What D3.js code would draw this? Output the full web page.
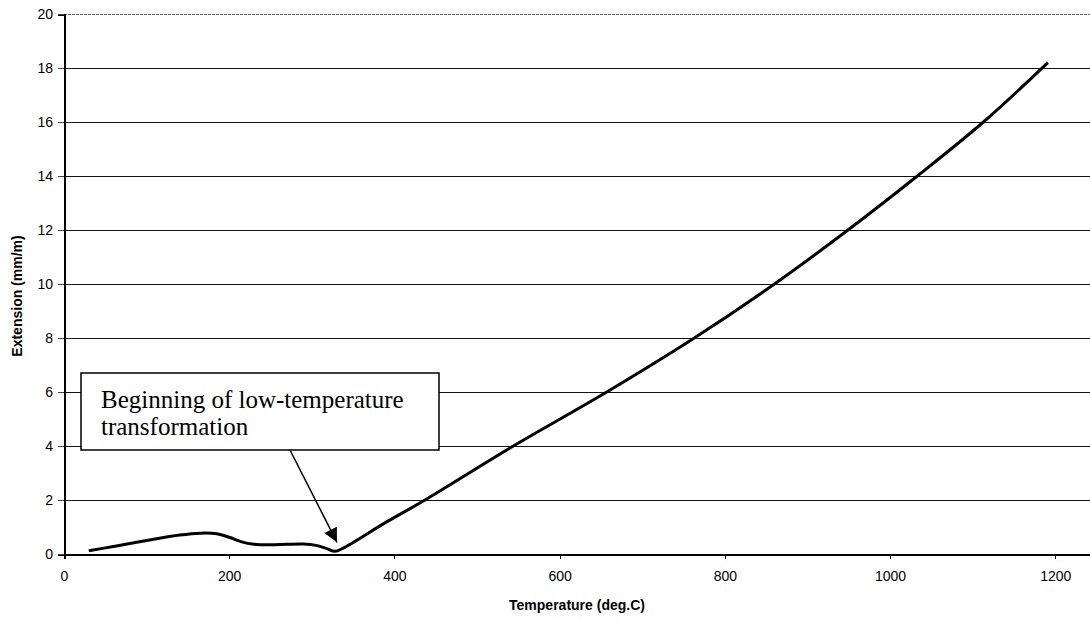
<!DOCTYPE html>
<html>
<head>
<meta charset="utf-8">
<script src="https://d3js.org/d3.v7.min.js"></script>
<style>
  html, body { margin: 0; padding: 0; background: #fff; }
  svg { display: block; }
</style>
</head>
<body>
<div id="chart"></div>
<script>
// Dilatometer curve
const temperature = [30, 60, 100, 140, 165, 185, 200, 215, 230, 250, 270, 290, 305, 318, 328, 338, 390, 437, 544, 657, 763, 860, 949, 1033, 1113, 1191];
const extension   = [0.12, 0.28, 0.5, 0.7, 0.77, 0.75, 0.62, 0.45, 0.36, 0.34, 0.36, 0.37, 0.32, 0.2, 0.1, 0.22, 1.18, 2, 4, 6, 8, 10, 12, 14, 16, 18.2];

const xTicks = [0, 200, 400, 600, 800, 1000, 1200];
const yTicks = [0, 2, 4, 6, 8, 10, 12, 14, 16, 18, 20];
const xMax = 1242;   // plot runs off the right edge of the picture

const note = ['Beginning of low-temperature', 'transformation'];
const noteAt = { t: 328, v: 0.1 };

const width = 1090, height = 622;
const margin = { top: 14, right: 0, bottom: 68, left: 64 };
const sans = 'Arial, "Liberation Sans", sans-serif';

const svg = d3.select('#chart').append('svg')
    .attr('width', width)
    .attr('height', height);

const x = d3.scaleLinear().domain([0, xMax]).range([margin.left, width - margin.right]);
const y = d3.scaleLinear().domain([0, 20]).range([height - margin.bottom, margin.top]);

// horizontal gridlines
svg.append('g')
    .attr('shape-rendering', 'crispEdges')
    .selectAll('line')
    .data(yTicks.filter(d => d > 0))
    .enter()
    .append('line')
    .attr('x1', x(0))
    .attr('x2', x(xMax))
    .attr('y1', d => y(d))
    .attr('y2', d => y(d))
    .attr('stroke', d => d === 20 ? '#666' : '#111')
    .attr('stroke-dasharray', d => d === 20 ? '3,1' : null)
    .attr('stroke-width', 1);

// axes
const yAxis = svg.append('g')
    .attr('transform', `translate(${x(0)},0)`)
    .call(d3.axisLeft(y).tickValues(yTicks).tickSize(6).tickPadding(5));

const xAxis = svg.append('g')
    .attr('transform', `translate(0,${y(0)})`)
    .call(d3.axisBottom(x).tickValues(xTicks).tickFormat(d3.format('d')).tickSize(5).tickPadding(12));

[yAxis, xAxis].forEach(a => {
    a.attr('shape-rendering', 'crispEdges');
    a.select('.domain').attr('stroke', '#000').attr('stroke-width', 2);
    a.selectAll('.tick line').attr('stroke', '#000');
    a.selectAll('text')
        .attr('fill', '#000')
        .style('font-family', sans)
        .style('font-size', '14px');
});
yAxis.selectAll('.tick line').attr('stroke', '#444');

// axis titles
svg.append('text')
    .attr('x', x(0) + (x(xMax) - x(0)) / 2)
    .attr('y', 610)
    .attr('text-anchor', 'middle')
    .style('font-family', sans)
    .style('font-size', '14px')
    .style('font-weight', 'bold')
    .text('Temperature (deg.C)');

svg.append('text')
    .attr('transform', 'translate(22,296) rotate(-90)')
    .attr('text-anchor', 'middle')
    .style('font-family', sans)
    .style('font-size', '14px')
    .style('font-weight', 'bold')
    .text('Extension (mm/m)');

// the curve
const points = temperature.map((t, i) => [t, extension[i]]);
const line = d3.line()
    .x(d => x(d[0]))
    .y(d => y(d[1]))
    .curve(d3.curveCatmullRom.alpha(0.5));

svg.append('path')
    .datum(points)
    .attr('fill', 'none')
    .attr('stroke', '#000')
    .attr('stroke-width', 3)
    .attr('stroke-linejoin', 'round')
    .attr('d', line);

// annotation box + arrow
const defs = svg.append('defs');
defs.append('marker')
    .attr('id', 'head')
    .attr('viewBox', '0 0 10 10')
    .attr('refX', 10)
    .attr('refY', 5)
    .attr('markerWidth', 18)
    .attr('markerHeight', 14)
    .attr('markerUnits', 'userSpaceOnUse')
    .attr('orient', 'auto')
    .append('path')
    .attr('d', 'M0,0 L10,5 L0,10 Z')
    .attr('fill', '#000');

const box = { x: 81, y: 373, w: 358, h: 77 };

svg.append('line')
    .attr('x1', 290)
    .attr('y1', box.y + box.h)
    .attr('x2', x(noteAt.t) + 2)
    .attr('y2', y(noteAt.v) - 9)
    .attr('stroke', '#000')
    .attr('stroke-width', 1.5)
    .attr('marker-end', 'url(#head)');

svg.append('rect')
    .attr('x', box.x)
    .attr('y', box.y)
    .attr('width', box.w)
    .attr('height', box.h)
    .attr('fill', '#fff')
    .attr('stroke', '#000')
    .attr('stroke-width', 1.5);

svg.append('text')
    .style('font-family', '"Times New Roman", "Liberation Serif", serif')
    .style('font-size', '25px')
    .selectAll('tspan')
    .data(note)
    .enter()
    .append('tspan')
    .attr('x', box.x + 20)
    .attr('y', (d, i) => box.y + 35 + i * 27)
    .text(d => d);
</script>
</body>
</html>
